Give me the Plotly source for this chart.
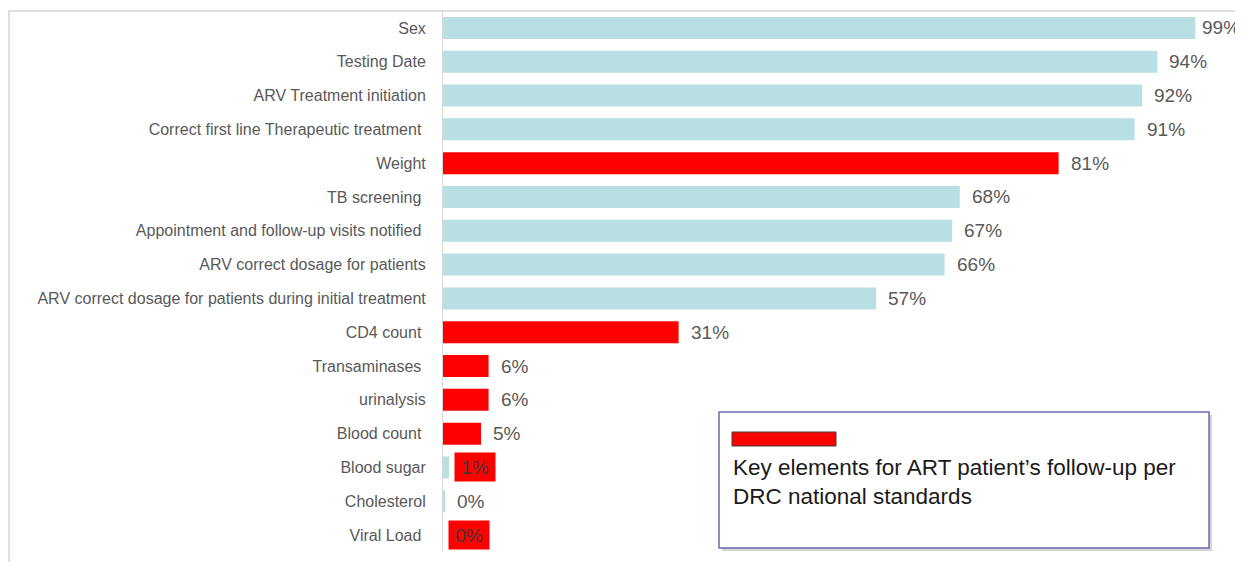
import plotly.graph_objects as go

# ---- data ----
categories = [
    "Sex", "Testing Date", "ARV Treatment initiation",
    "Correct first line Therapeutic treatment ", "Weight", "TB screening ",
    "Appointment and follow-up visits notified ", "ARV correct dosage for patients",
    "ARV correct dosage for patients during initial treatment", "CD4 count ",
    "Transaminases ", "urinalysis", "Blood count ", "Blood sugar", "Cholesterol",
    "Viral Load ",
]
values = [99, 94, 92, 91, 81, 68, 67, 66, 57, 31, 6, 6, 5, 0.8, 0.3, 0]
key_element = [False, False, False, False, True, False, False, False, False, True,
               True, True, True, False, False, False]
highlight_label = [False] * 13 + [True, False, True]
legend_text = "Key elements for ART patient’s follow-up per<br>DRC national standards"

# ---- style ----
OFF = 8                     # page body margin of the browser
W, H = 1243 - OFF, 562 - OFF
# plot area, in page pixels
PL, PR, PT, PB = 443, 1203, 11, 552
BLUE = "#B7DFE4"
RED = "#FF0000"
FONT = "Liberation Sans, Arial, sans-serif"


def px(x):
    return (x - PL) / (PR - PL)


def py(y):
    return (PB - y) / (PB - PT)


colors = [RED if k else BLUE for k in key_element]

fig = go.Figure(go.Bar(
    x=values, y=categories, orientation="h",
    marker=dict(color=colors, line=dict(width=0)),
    hoverinfo="skip",
))

annotations = []
for cat, v, hl in zip(categories, values, highlight_label):
    label = f"{round(v)}%"
    if hl:
        annotations.append(dict(
            x=v, y=cat, xref="x", yref="y", text=label, showarrow=False,
            xanchor="left", yanchor="middle", xshift=5,
            font=dict(family=FONT, size=19, color="#3A3A3A"),
            bgcolor=RED, width=36, height=24, borderpad=2,
        ))
    else:
        annotations.append(dict(
            x=v, y=cat, xref="x", yref="y", text=label, showarrow=False,
            xanchor="left", yanchor="middle", xshift=5 if v >= 99 else 10,
            font=dict(family=FONT, size=19, color="#595959"),
        ))

annotations.append(dict(
    x=px(731), y=py(482), xref="paper", yref="paper", text=legend_text,
    showarrow=False, xanchor="left", yanchor="middle", align="left",
    font=dict(family=FONT, size=22.5, color="#1A1A1A"),
))

shapes = [
    # outer frame (left and top)
    dict(type="line", xref="paper", yref="paper", x0=px(9), x1=px(9), y0=py(11), y1=py(562),
         line=dict(color="#BFBFBF", width=1)),
    dict(type="line", xref="paper", yref="paper", x0=px(9), x1=px(1243), y0=py(11), y1=py(11),
         line=dict(color="#BFBFBF", width=1)),
    # legend box shadow
    dict(type="rect", xref="paper", yref="paper", x0=px(722), x1=px(1212), y0=py(415), y1=py(551),
         fillcolor="#D4D4D4", line=dict(width=0), layer="above"),
    # legend box
    dict(type="rect", xref="paper", yref="paper", x0=px(719), x1=px(1209), y0=py(412), y1=py(548),
         fillcolor="white", line=dict(color="#6B6BB0", width=1.5), layer="above"),
    # legend swatch
    dict(type="rect", xref="paper", yref="paper", x0=px(732), x1=px(836), y0=py(432), y1=py(446),
         fillcolor=RED, line=dict(color="#404040", width=1), layer="above"),
]

fig.update_layout(
    width=W, height=H,
    margin=dict(l=PL - OFF, r=1243 - PR, t=PT - OFF, b=562 - PB, autoexpand=False),
    paper_bgcolor="white", plot_bgcolor="white",
    bargap=0.35, showlegend=False,
    xaxis=dict(range=[0, 100], visible=False, fixedrange=True),
    yaxis=dict(
        autorange="reversed", showline=True, linecolor="#D9D9D9", linewidth=1,
        showgrid=False, ticks="", ticklabelstandoff=13,
        tickfont=dict(family=FONT, size=16, color="#595959"),
    ),
    annotations=annotations, shapes=shapes,
    font=dict(family=FONT),
)

fig.write_html("out.html")
